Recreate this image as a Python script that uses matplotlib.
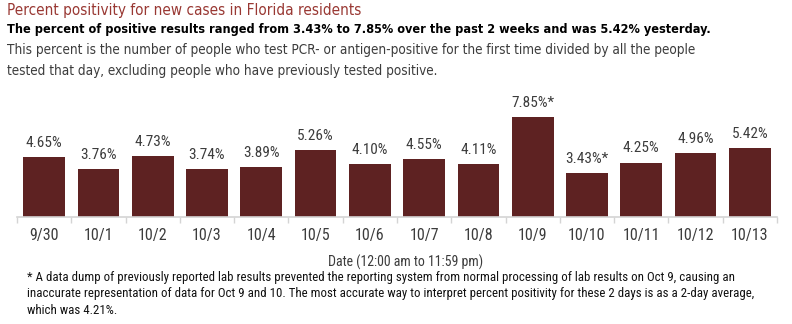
import matplotlib.pyplot as plt
from matplotlib import font_manager
from matplotlib.font_manager import FontProperties

dates = ['9/30', '10/1', '10/2', '10/3', '10/4', '10/5', '10/6',
         '10/7', '10/8', '10/9', '10/10', '10/11', '10/12', '10/13']
positivity = [4.65, 3.76, 4.73, 3.74, 3.89, 5.26, 4.10,
              4.55, 4.11, 7.85, 3.43, 4.25, 4.96, 5.42]
flagged = ['10/9', '10/10']

title = 'Percent positivity for new cases in Florida residents'
headline = ('The percent of positive results ranged from 3.43% to 7.85% '
            'over the past 2 weeks and was 5.42% yesterday.')
blurb = ['This percent is the number of people who test PCR- or antigen-positive '
         'for the first time divided by all the people',
         'tested that day, excluding people who have previously tested positive.']
xlabel = 'Date (12:00 am to 11:59 pm)'
footnote = ['* A data dump of previously reported lab results prevented the reporting '
            'system from normal processing of lab results on Oct 9, causing an',
            'inaccurate representation of data for Oct 9 and 10. The most accurate way '
            'to interpret percent positivity for these 2 days is as a 2-day average,',
            'which was 4.21%.']


def pick_font(names, stretch=None, weight='normal', fallback='DejaVu Sans'):
    # first upright face of the first installed family in names
    want = 400 if weight == 'normal' else 700
    for name in names:
        faces = [f for f in font_manager.fontManager.ttflist
                 if f.name == name and f.style == 'normal'
                 and (stretch is None or f.stretch == stretch)]
        if faces:
            best = min(faces, key=lambda f: abs(
                (f.weight if isinstance(f.weight, int)
                 else (700 if f.weight == 'bold' else 400)) - want))
            return FontProperties(fname=best.fname)
    return FontProperties(family=fallback, weight=weight)


tahoma = pick_font(['DejaVu Sans'], 'condensed')
tahoma_bold = pick_font(['DejaVu Sans'], 'condensed', 'bold')
small = pick_font(['Roboto Condensed', 'PT Sans Narrow', 'Archivo Narrow'])

bar_color = '#5e2222'
grey = '#3c3c3c'

fig = plt.figure(figsize=(7.92, 3.24), dpi=100)
renderer = fig.canvas.get_renderer()


def put(x, y, s, width=None, size=9, fp=small, **kw):
    # place a line of text by pixel position; scale it to the given pixel width
    t = fig.text(x / 792, 1 - y / 324, s, fontproperties=fp.copy(),
                 va='center', **kw)
    t.set_fontsize(size)
    if width:
        w = t.get_window_extent(renderer).width
        t.set_fontsize(size * width / w)
    return t


ax = fig.add_axes([17 / 792, (324 - 216.7) / 324, 760 / 792, 114.75 / 324])

x = range(len(dates))
ax.bar(x, positivity, width=0.77, color=bar_color)
for i, (d, v) in enumerate(zip(dates, positivity)):
    label = f'{v:.2f}%' + ('*' if d in flagged else '')
    t = ax.text(i, v + 0.55, label, ha='center', va='bottom',
                color=grey, fontproperties=small.copy())
    t.set_fontsize(11)

ax.set_xlim(-0.5, len(dates) - 0.5)
ax.set_ylim(0, 9)
ax.set_yticks([])
ax.set_xticks(list(x))
ax.set_xticklabels(dates, color=grey)
for lab in ax.get_xticklabels():
    lab.set_fontproperties(small.copy())
    lab.set_fontsize(11.5)
ax.tick_params(axis='x', length=0, pad=8)
ax.set_xticks([i - 0.5 for i in range(len(dates) + 1)], minor=True)
ax.tick_params(axis='x', which='minor', length=4, color='#d4d4d4', width=1)
for side in ('top', 'right', 'left'):
    ax.spines[side].set_visible(False)
ax.spines['bottom'].set_color('#d4d4d4')
ax.spines['bottom'].set_linewidth(1.2)

put(7, 11, title, width=355, fp=tahoma, color='#993833', ha='left')
put(7, 29.5, headline, width=700, fp=tahoma_bold, color='black', ha='left')
first = put(7, 50, blurb[0], width=691, fp=tahoma, color=grey, ha='left')
second = put(7, 71, blurb[1], fp=tahoma, color=grey, ha='left')
second.set_fontsize(first.get_fontsize())

put(406, 262, xlabel, width=157, color=grey, ha='center')
f1 = put(27, 278, footnote[0], width=704, color='#111111', ha='left')
for y, s in zip([294, 311], footnote[1:]):
    t = put(27, y, s, color='#111111', ha='left')
    t.set_fontsize(f1.get_fontsize())

fig.savefig('out.png', dpi=100, facecolor='white')
